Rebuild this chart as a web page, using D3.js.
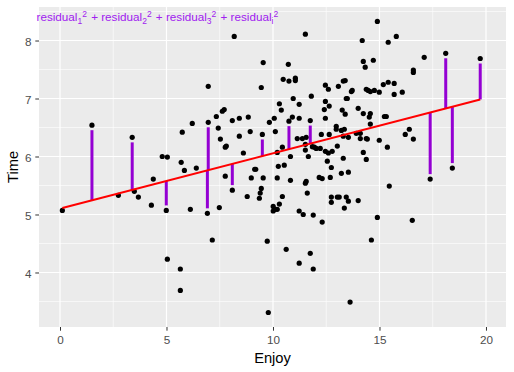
<!DOCTYPE html>
<html>
<head>
<meta charset="utf-8">
<script src="https://cdn.jsdelivr.net/npm/d3@7"></script>
<style>
  body { margin: 0; background: #fff; }
  svg text { font-family: Arial, "Liberation Sans", sans-serif; }
</style>
</head>
<body>
<div id="chart"></div>
<script>
// Enjoy / Time values
const enjoy = [
  1.50, 3.39, 4.38, 0.11, 2.74, 3.49, 3.68, 4.29, 4.99, 5.04,
  5.65, 5.65, 9.54, 10.72, 10.48, 10.75, 6.96, 9.45, 10.30, 10.39,
  7.71, 7.62, 7.34, 8.42, 8.84, 8.09, 10.06, 9.83, 10.75, 6.21,
  6.96, 5.74, 7.43, 8.93, 10.11, 9.50, 4.80, 5.04, 5.69, 5.84,
  6.40, 7.76, 7.81, 7.53, 8.42, 8.61, 9.14, 9.19, 10.25, 10.53,
  10.44, 10.20, 10.82, 7.76, 8.98, 9.54, 10.20, 8.18, 14.24, 14.71,
  14.33, 11.05, 11.05, 12.46, 12.60, 13.07, 13.39, 13.30, 13.68, 13.72,
  14.38, 14.47, 14.57, 14.76, 14.99, 15.18, 15.41, 15.69, 15.69, 16.07,
  11.80, 10.95, 11.23, 12.46, 12.41, 12.64, 13.44, 13.49, 13.25, 13.39,
  14.00, 14.24, 14.57, 14.52, 15.23, 15.32, 10.91, 11.23, 11.75, 12.46,
  14.57, 12.97, 12.97, 13.21, 13.35, 12.27, 12.64, 13.91, 14.10, 13.30,
  13.54, 14.10, 14.38, 14.43, 14.99, 16.21, 16.40, 11.14, 11.38, 11.56,
  11.52, 11.52, 11.85, 11.94, 12.03, 12.22, 12.46, 12.60, 12.78, 13.02,
  14.24, 15.37, 11.66, 12.55, 13.30, 14.38, 12.74, 13.21, 13.54, 12.17,
  12.31, 12.69, 11.52, 14.90, 14.19, 15.41, 15.79, 17.10, 16.59, 16.59,
  18.11, 19.73, 16.59, 17.38, 18.42, 16.54, 6.12, 6.92, 7.48, 8.09,
  8.79, 9.45, 9.40, 9.36, 10.44, 10.01, 10.11, 10.01, 10.20, 10.30,
  10.82, 7.15, 9.73, 10.62, 11.52, 11.56, 15.46, 11.61, 12.74, 12.74,
  13.02, 13.11, 13.44, 13.54, 14.00, 13.35, 11.23, 11.42, 11.89, 12.31,
  14.90, 14.62, 11.75, 11.23, 11.89, 13.62, 9.78
];
const time = [
  6.54, 6.33, 5.61, 5.07, 5.33, 5.40, 5.30, 5.16, 5.07, 4.23,
  4.06, 3.69, 7.62, 7.59, 7.33, 7.30, 7.21, 7.19, 6.91, 6.80,
  6.81, 6.78, 6.69, 6.66, 6.68, 6.62, 6.66, 6.59, 6.61, 6.57,
  6.59, 6.42, 6.49, 6.43, 6.43, 6.38, 6.00, 5.99, 5.90, 5.76,
  5.80, 6.16, 6.18, 6.30, 6.35, 6.06, 5.78, 5.78, 5.83, 5.85,
  6.16, 6.07, 6.00, 5.66, 5.63, 5.63, 5.63, 8.07, 7.64, 7.66,
  7.54, 7.35, 7.31, 7.23, 7.16, 7.21, 7.31, 7.30, 7.12, 7.14,
  7.16, 7.14, 7.12, 7.14, 7.11, 7.24, 7.28, 7.26, 7.07, 7.11,
  7.04, 7.00, 6.90, 6.95, 6.81, 6.87, 7.00, 7.00, 6.80, 6.73,
  6.83, 6.74, 6.74, 6.68, 6.69, 6.69, 6.68, 6.66, 6.62, 6.66,
  6.56, 6.52, 6.47, 6.45, 6.47, 6.38, 6.38, 6.40, 6.40, 6.35,
  6.33, 6.31, 6.31, 6.30, 6.28, 6.38, 6.47, 6.31, 6.31, 6.33,
  6.21, 6.11, 6.17, 6.16, 6.14, 6.14, 6.09, 6.06, 6.09, 6.18,
  6.07, 6.16, 6.00, 5.92, 5.97, 5.95, 5.81, 5.71, 5.73, 5.64,
  5.62, 5.64, 8.11, 8.33, 8.00, 7.97, 8.07, 7.71, 7.49, 7.45,
  7.78, 7.69, 6.30, 5.61, 5.80, 4.90, 5.09, 5.02, 5.12, 5.42,
  5.31, 5.45, 5.37, 5.28, 5.31, 5.14, 5.09, 5.06, 5.09, 5.18,
  5.59, 4.56, 4.54, 4.40, 5.54, 5.57, 5.49, 5.37, 5.30, 5.21,
  5.30, 5.30, 5.30, 5.23, 5.24, 5.11, 5.06, 5.00, 4.99, 4.87,
  4.95, 4.56, 4.33, 4.16, 4.06, 3.49, 3.31
];
// points that get a residual segment (indexes into enjoy/time)
const residualIdx = [0, 1, 8, 28, 30, 35, 98, 150, 151, 153, 154, 157, 159];

// fitted line
const fitIntercept = 5.10;
const fitSlope = 0.0955;

const xTicks = [0, 5, 10, 15, 20];
const xMinor = [2.5, 7.5, 12.5, 17.5];
const yTicks = [4, 5, 6, 7, 8];
const yMinor = [3.5, 4.5, 5.5, 6.5, 7.5, 8.5];
const annotationSubs = ["1", "2", "3", "i"];

const width = 514;
const height = 372;
const panel = { left: 39, top: 7, right: 506, bottom: 327 };

const svg = d3.select("#chart")
  .append("svg")
  .attr("width", width)
  .attr("height", height);

const x = d3.scaleLinear().domain([-0.986, 20.94]).range([panel.left, panel.right]);
const y = d3.scaleLinear().domain([3.06, 8.578]).range([panel.bottom, panel.top]);

// panel background
svg.append("rect")
  .attr("x", panel.left)
  .attr("y", panel.top)
  .attr("width", panel.right - panel.left)
  .attr("height", panel.bottom - panel.top)
  .attr("fill", "#EBEBEB");

const grid = svg.append("g");

// minor grid first, then major
grid.selectAll(".xminor").data(xMinor).enter().append("line")
  .attr("x1", d => x(d)).attr("x2", d => x(d))
  .attr("y1", panel.top).attr("y2", panel.bottom)
  .attr("stroke", "#fff").attr("stroke-width", 0.6);
grid.selectAll(".yminor").data(yMinor).enter().append("line")
  .attr("x1", panel.left).attr("x2", panel.right)
  .attr("y1", d => y(d)).attr("y2", d => y(d))
  .attr("stroke", "#fff").attr("stroke-width", 0.6);
grid.selectAll(".xmajor").data(xTicks).enter().append("line")
  .attr("x1", d => x(d)).attr("x2", d => x(d))
  .attr("y1", panel.top).attr("y2", panel.bottom)
  .attr("stroke", "#fff").attr("stroke-width", 1.2);
grid.selectAll(".ymajor").data(yTicks).enter().append("line")
  .attr("x1", panel.left).attr("x2", panel.right)
  .attr("y1", d => y(d)).attr("y2", d => y(d))
  .attr("stroke", "#fff").attr("stroke-width", 1.2);

// scatter points
svg.append("g")
  .selectAll("circle")
  .data(d3.range(enjoy.length))
  .enter()
  .append("circle")
  .attr("cx", i => x(enjoy[i]))
  .attr("cy", i => y(time[i]))
  .attr("r", 2.6)
  .attr("fill", "#000");

// residual segments: from just off the point to the fitted line
svg.append("g")
  .selectAll("line")
  .data(residualIdx)
  .enter()
  .append("line")
  .attr("x1", i => x(enjoy[i]))
  .attr("x2", i => x(enjoy[i]))
  .attr("y1", i => {
    const yp = y(time[i]);
    const yf = y(fitIntercept + fitSlope * enjoy[i]);
    return yp + (yf > yp ? 5 : -5);
  })
  .attr("y2", i => y(fitIntercept + fitSlope * enjoy[i]))
  .attr("stroke", "#9400D3")
  .attr("stroke-width", 3);

// fitted line across the data range
const xExtent = d3.extent(enjoy);
svg.append("path")
  .datum(xExtent)
  .attr("d", d3.line()
    .x(d => x(d))
    .y(d => y(fitIntercept + fitSlope * d)))
  .attr("fill", "none")
  .attr("stroke", "#FF0000")
  .attr("stroke-width", 2);

// axes
const xAxis = svg.append("g")
  .attr("transform", "translate(0," + panel.bottom + ")")
  .call(d3.axisBottom(x).tickValues(xTicks).tickSize(3.7).tickPadding(5).tickFormat(d3.format("d")));
const yAxis = svg.append("g")
  .attr("transform", "translate(" + panel.left + ",0)")
  .call(d3.axisLeft(y).tickValues(yTicks).tickSize(3.7).tickPadding(3.8).tickFormat(d3.format("d")));

[xAxis, yAxis].forEach(a => {
  a.select(".domain").remove();
  a.selectAll(".tick line").attr("stroke", "#333333").attr("stroke-width", 1);
  a.selectAll(".tick text")
    .attr("fill", "#4D4D4D")
    .style("font-size", "11.7px");
});
yAxis.selectAll(".tick text").attr("dy", "0.4em");

// axis titles
svg.append("text")
  .attr("x", (panel.left + panel.right) / 2)
  .attr("y", 362.7)
  .attr("text-anchor", "middle")
  .style("font-size", "14.7px")
  .attr("fill", "#000")
  .text("Enjoy");

svg.append("text")
  .attr("transform", "translate(17.5," + (panel.top + panel.bottom) / 2 + ") rotate(-90)")
  .attr("text-anchor", "middle")
  .style("font-size", "14.7px")
  .attr("fill", "#000")
  .text("Time");

// sum of squared residuals label
const label = svg.append("text")
  .attr("x", 36.5)
  .attr("y", 21)
  .attr("fill", "#A020F0")
  .style("font-size", "11.7px");

annotationSubs.forEach((s, k) => {
  label.append("tspan").text((k === 0 ? "" : " + ") + "residual");
  label.append("tspan").attr("dy", 2.5).style("font-size", "8.5px").text(s);
  label.append("tspan").attr("dy", -7).style("font-size", "8.5px").text("2");
  label.append("tspan").attr("dy", 4.5).text("\u200A");
});
</script>
</body>
</html>
